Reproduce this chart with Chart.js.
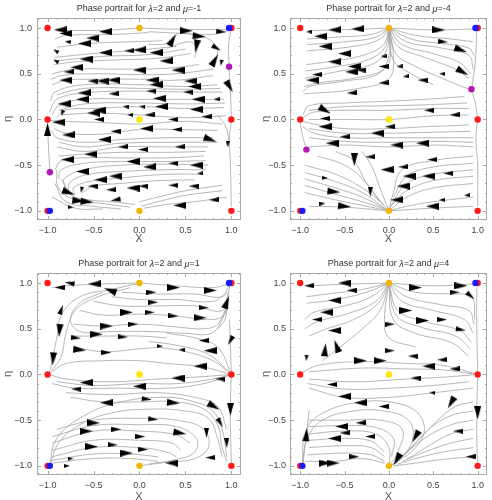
<!DOCTYPE html>
<html>
<head>
<meta charset="utf-8">
<script src="https://cdn.jsdelivr.net/npm/chart.js@4.4.0/dist/chart.umd.min.js"></script>
<style>
  body { margin: 0; background: #fff; overflow: hidden; }
  canvas { position: absolute; }
</style>
</head>
<body>
<canvas id="c1" width="246" height="250" style="left:0;top:0"></canvas>
<canvas id="c2" width="246" height="250" style="left:246px;top:0"></canvas>
<canvas id="c3" width="246" height="258" style="left:0;top:250px"></canvas>
<canvas id="c4" width="246" height="258" style="left:246px;top:250px"></canvas>
<script>
// fixed points shared by all four portraits
const redPts = [[-1, 1], [-1, 0], [1, 0], [1, -1], [-1, -1], [1, 1]];
const orangePts = [[0, 1], [0, -1]];
const yellowPts = [[0, 0]];
const bluePts = [[0.975, 1], [-0.975, -1]];
const magentaA = [[0.975, 0.577], [-0.975, -0.577]];
const magentaB = [[0.93, 0.33], [-0.93, -0.33]];

const titles = [
  'Phase portrait for \u03bb=2 and \u03bc=-1',
  'Phase portrait for \u03bb=2 and \u03bc=-4',
  'Phase portrait for \u03bb=2 and \u03bc=1',
  'Phase portrait for \u03bb=2 and \u03bc=4'
];
const tickVals = [-1, -0.5, 0, 0.5, 1];

// streamlines: [x, y] points
const lines1 = [
  [[0, 1], [-0.4, 0.975], [-0.9, 0.975]],
  [[0.1, 0.95], [-0.3, 0.93], [-0.8, 0.92], [-0.92, 0.88]],
  [[0.25, 0.86], [-0.1, 0.85], [-0.55, 0.83], [-0.9, 0.79]],
  [[0.4, 0.8], [0, 0.76], [-0.4, 0.73], [-0.92, 0.68]],
  [[0.5, 0.77], [0.1, 0.71], [-0.4, 0.69], [-0.92, 0.64]],
  [[0.55, 0.72], [0.2, 0.67], [-0.3, 0.65], [-0.7, 0.63], [-0.93, 0.6]],
  [[0.65, 0.6], [0.3, 0.56], [-0.2, 0.55], [-0.7, 0.55], [-0.95, 0.5]],
  [[0.8, 0.55], [0.4, 0.5], [0, 0.49], [-0.5, 0.5], [-0.85, 0.48], [-0.96, 0.44]],
  [[0.8, 0.48], [0.4, 0.43], [0, 0.44], [-0.5, 0.44], [-0.8, 0.43], [-0.95, 0.38]],
  [[0.85, 0.38], [0.5, 0.36], [0, 0.38], [-0.6, 0.38], [-0.92, 0.3], [-0.97, 0.2]],
  [[0.88, 0.34], [0.5, 0.33], [0, 0.34], [-0.6, 0.34], [-0.9, 0.27]],
  [[0.9, 0.3], [0.5, 0.3], [0, 0.31], [-0.6, 0.29], [-0.9, 0.22], [-0.98, 0.08]],
  [[0.92, 0.22], [0.5, 0.22], [0, 0.22], [-0.6, 0.22], [-0.88, 0.15], [-0.95, 0.05]],
  [[0.93, 0.18], [0.5, 0.17], [0, 0.18], [-0.6, 0.17], [-0.88, 0.1]],
  [[0.92, 0.13], [0.5, 0.12], [0, 0.14], [-0.5, 0.12], [-0.82, 0.1], [-0.9, 0.02]],
  [[0.94, 0.04], [0.5, 0.02], [0, 0.05], [-0.5, 0.07], [-0.85, 0.05]],
  [[0, 1], [0.5, 0.985], [0.96, 0.985]],
  [[0.1, 0.96], [0.5, 0.94], [0.8, 0.93], [0.96, 0.97]],
  [[0.1, 0.82], [0.3, 0.83], [0.38, 0.9], [0.42, 0.95]],
  [[0.3, 0.78], [0.55, 0.85], [0.62, 0.78], [0.6, 0.68]],
  [[0.45, 0.95], [0.75, 0.88], [0.85, 0.75], [0.8, 0.6]],
  [[0.99, 0.96], [0.97, 0.8], [0.975, 0.6]],
  [[0.975, 0.55], [0.99, 0.3], [1, 0.02]],
  [[0.9, -0.05], [0.5, -0.02], [0, -0.05], [-0.5, -0.03], [-0.88, -0.02], [-0.98, -0.01]],
  [[0.85, -0.12], [0.4, -0.11], [0, -0.11], [-0.4, -0.16], [-0.8, -0.15], [-0.93, -0.1]],
  [[0.8, -0.2], [0.3, -0.2], [-0.2, -0.22], [-0.6, -0.25], [-0.9, -0.2], [-0.96, -0.12]],
  [[0.85, -0.25], [0.3, -0.25], [-0.2, -0.26], [-0.6, -0.3], [-0.88, -0.25]],
  [[0.75, -0.3], [0.3, -0.3], [-0.2, -0.3], [-0.6, -0.35], [-0.9, -0.3]],
  [[0.72, -0.35], [0.3, -0.36], [-0.2, -0.36], [-0.6, -0.38], [-0.88, -0.4]],
  [[0.7, -0.4], [0.3, -0.42], [-0.2, -0.42], [-0.6, -0.42], [-0.85, -0.45], [-0.92, -0.55]],
  [[0.72, -0.45], [0.3, -0.46], [-0.2, -0.46], [-0.6, -0.48], [-0.85, -0.55], [-0.88, -0.65]],
  [[0.75, -0.5], [0.3, -0.49], [-0.2, -0.5], [-0.6, -0.55], [-0.82, -0.65], [-0.8, -0.75]],
  [[0.72, -0.55], [0.3, -0.55], [-0.2, -0.57], [-0.55, -0.6], [-0.75, -0.68], [-0.78, -0.78]],
  [[0.7, -0.6], [0.3, -0.6], [-0.2, -0.64], [-0.55, -0.68], [-0.72, -0.75], [-0.7, -0.82]],
  [[0.6, -0.66], [0.2, -0.67], [-0.2, -0.7], [-0.5, -0.73], [-0.62, -0.8]],
  [[-0.9, -0.55], [-0.88, -0.75], [-0.7, -0.88], [-0.4, -0.92], [-0.1, -0.96]],
  [[-0.85, -0.65], [-0.75, -0.82], [-0.55, -0.88], [-0.3, -0.9], [-0.05, -0.93]],
  [[-0.92, -0.7], [-0.8, -0.9], [-0.5, -0.95], [-0.2, -0.98]],
  [[-0.95, -0.85], [-0.7, -0.97], [-0.4, -0.98]],
  [[0.95, -0.85], [0.6, -0.9], [0.3, -0.93], [0.05, -0.97]],
  [[0.9, -0.78], [0.5, -0.83], [0.2, -0.9], [0.02, -0.95]],
  [[0.9, -0.72], [0.5, -0.78], [0.2, -0.85], [0, -0.9]],
  [[1, -0.02], [0.98, -0.2], [0.99, -0.5], [1, -0.95]],
  [[0.85, 0.05], [0.95, -0.1], [0.97, -0.3]],
  [[-0.975, -0.57], [-0.99, -0.3], [-1, -0.02]]
];
const lines2 = [
  [[0, 1], [-0.4, 0.985], [-0.9, 0.97]],
  [[0, 1], [-0.2, 0.93], [-0.6, 0.9], [-0.92, 0.88]],
  [[0, 1], [-0.15, 0.9], [-0.5, 0.85], [-0.92, 0.82]],
  [[0, 1], [-0.1, 0.88], [-0.4, 0.8], [-0.92, 0.75]],
  [[0, 1], [-0.06, 0.82], [-0.3, 0.7], [-0.7, 0.63], [-0.93, 0.6]],
  [[0, 1], [-0.05, 0.78], [-0.25, 0.65], [-0.65, 0.57], [-0.94, 0.53]],
  [[0, 1], [-0.03, 0.75], [-0.2, 0.6], [-0.6, 0.52], [-0.95, 0.45]],
  [[0, 1], [0.02, 0.72], [-0.05, 0.55], [-0.4, 0.45], [-0.8, 0.4], [-0.96, 0.36]],
  [[0, 1], [0, 0.7], [-0.12, 0.5], [-0.5, 0.42], [-0.9, 0.36], [-0.97, 0.3]],
  [[0, 1], [0.05, 0.7], [0, 0.45], [-0.4, 0.33], [-0.95, 0.28]],
  [[0, 1], [0.5, 0.98], [0.96, 0.99]],
  [[0, 1], [0.3, 0.92], [0.7, 0.88], [0.95, 0.85]],
  [[0, 1], [0.25, 0.88], [0.6, 0.83], [0.9, 0.78], [0.96, 0.7]],
  [[0, 1], [0.2, 0.85], [0.6, 0.78], [0.9, 0.7], [0.95, 0.55]],
  [[0, 1], [0.15, 0.82], [0.5, 0.72], [0.8, 0.62], [0.92, 0.5]],
  [[0, 1], [0.1, 0.8], [0.4, 0.68], [0.75, 0.55], [0.9, 0.45]],
  [[0, 1], [0.08, 0.72], [0.3, 0.58], [0.6, 0.45], [0.85, 0.35], [0.93, 0.33]],
  [[0, 1], [0.05, 0.65], [0.25, 0.5], [0.5, 0.38]],
  [[0.99, 0.97], [0.97, 0.6], [0.93, 0.33]],
  [[0.93, 0.33], [0.98, 0.15], [1, 0]],
  [[0.85, 0.25], [0.4, 0.22], [0, 0.2], [-0.5, 0.18], [-0.9, 0.15], [-0.97, 0.05]],
  [[0.88, 0.18], [0.4, 0.16], [0, 0.15], [-0.5, 0.14], [-0.9, 0.1]],
  [[0.9, 0.12], [0.5, 0.12], [0, 0.1], [-0.5, 0.1], [-0.85, 0.08], [-0.98, 0.01]],
  [[0.9, 0.05], [0.5, 0.04], [0, 0], [-0.5, 0], [-0.9, 0]],
  [[0.9, -0.06], [0.4, -0.08], [0, -0.1], [-0.5, -0.1], [-0.85, -0.05], [-0.97, -0.02]],
  [[0.92, -0.13], [0.5, -0.14], [0, -0.15], [-0.5, -0.15], [-0.9, -0.1]],
  [[0.95, -0.2], [0.5, -0.2], [0, -0.2], [-0.5, -0.2], [-0.85, -0.15], [-0.97, -0.08]],
  [[0.95, -0.25], [0.5, -0.24], [0, -0.25], [-0.5, -0.24], [-0.9, -0.2]],
  [[0.95, -0.3], [0.5, -0.28], [0, -0.3], [-0.5, -0.28], [-0.9, -0.3]],
  [[1, 0], [0.98, -0.2], [1, -0.5], [1, -0.95]],
  [[-0.93, -0.33], [-0.98, -0.15], [-1, -0.02]],
  [[-0.95, -0.5], [-0.6, -0.6], [-0.3, -0.75], [-0.1, -0.9], [0, -1]],
  [[-0.95, -0.58], [-0.6, -0.68], [-0.3, -0.8], [-0.05, -0.97]],
  [[-0.95, -0.65], [-0.6, -0.75], [-0.3, -0.85], [0, -1]],
  [[-0.95, -0.72], [-0.6, -0.82], [-0.3, -0.9], [-0.02, -0.99]],
  [[-0.95, -0.8], [-0.6, -0.88], [-0.3, -0.94], [0, -1]],
  [[-0.9, -0.95], [-0.5, -0.96], [0, -1]],
  [[-0.8, -0.4], [-0.5, -0.5], [-0.3, -0.65], [-0.1, -0.9]],
  [[-0.6, -0.35], [-0.4, -0.45], [-0.25, -0.7], [-0.05, -0.95]],
  [[-0.3, -0.35], [-0.2, -0.5], [-0.1, -0.75], [0, -1]],
  [[0.95, -0.4], [0.5, -0.45], [0.15, -0.55], [0.05, -0.8], [0, -1]],
  [[0.95, -0.48], [0.5, -0.52], [0.2, -0.62], [0.05, -0.85]],
  [[0.95, -0.55], [0.5, -0.6], [0.2, -0.7], [0.05, -0.9], [0, -1]],
  [[0.95, -0.62], [0.5, -0.67], [0.2, -0.78], [0.02, -0.95]],
  [[0.95, -0.7], [0.5, -0.75], [0.2, -0.85], [0, -1]],
  [[0.95, -0.85], [0.5, -0.9], [0.2, -0.95], [0, -1]],
  [[0.95, -0.95], [0.5, -0.97], [0, -1]]
];
const lines3 = [
  [[0, 1], [-0.4, 0.99], [-0.8, 0.97], [-0.95, 0.95]],
  [[0, 1], [-0.3, 0.93], [-0.65, 0.85], [-0.85, 0.65], [-0.9, 0.4], [-0.95, 0.15], [-0.98, 0.02]],
  [[-0.1, 0.95], [-0.45, 0.85], [-0.7, 0.7], [-0.8, 0.45], [-0.85, 0.2], [-0.95, 0.05]],
  [[-0.4, 0.9], [-0.65, 0.78], [-0.75, 0.6], [-0.65, 0.47], [-0.3, 0.47], [0.1, 0.47], [0.5, 0.45], [0.78, 0.45], [0.9, 0.6], [0.96, 0.8]],
  [[0, 1], [0.4, 0.97], [0.8, 0.95], [0.97, 0.99]],
  [[-0.2, 0.9], [0.2, 0.88], [0.6, 0.88], [0.9, 0.85], [0.97, 0.97]],
  [[-0.3, 0.85], [0, 0.82], [0.4, 0.82], [0.8, 0.8], [0.95, 0.9]],
  [[-0.5, 0.8], [-0.2, 0.75], [0.2, 0.75], [0.6, 0.75], [0.9, 0.7], [0.97, 0.9]],
  [[-0.65, 0.7], [-0.4, 0.65], [0, 0.66], [0.4, 0.64], [0.75, 0.6], [0.92, 0.65], [0.97, 0.85]],
  [[-0.72, 0.55], [-0.4, 0.53], [0, 0.55], [0.4, 0.52], [0.7, 0.5], [0.85, 0.55], [0.95, 0.75]],
  [[-0.75, 0.42], [-0.4, 0.42], [0, 0.42], [0.3, 0.4]],
  [[-0.72, 0.3], [-0.4, 0.25], [0, 0.28], [0.25, 0.3]],
  [[1, 0], [0.8, 0.15], [0.5, 0.25], [0.2, 0.3]],
  [[1, 0], [0.75, 0.22], [0.4, 0.32], [0.1, 0.36]],
  [[1, 0], [0.85, 0.3], [0.6, 0.4], [0.3, 0.45]],
  [[1, 0], [0.7, 0.08], [0.3, 0.12], [0, 0.15], [-0.4, 0.15], [-0.8, 0.12], [-0.97, 0.02]],
  [[1, 0], [0.6, -0.03], [0.2, -0.05], [-0.3, -0.08], [-0.8, -0.05], [-0.98, 0]],
  [[1, 0], [0.8, -0.05], [0.4, -0.1], [0, -0.1], [-0.5, -0.12], [-0.9, -0.08]],
  [[1, 0], [0.7, -0.1], [0.3, -0.15], [-0.3, -0.15], [-0.7, -0.15], [-0.95, -0.1]],
  [[1, 0.02], [0.99, 0.3], [0.98, 0.6]],
  [[0.85, 0.5], [0.93, 0.6], [0.96, 0.8], [0.98, 0.97]],
  [[1, 0], [0.99, -0.3], [0.99, -0.6], [1, -0.98]],
  [[-0.98, -1], [-0.9, -0.7], [-0.6, -0.45], [-0.2, -0.3], [0.3, -0.25], [0.6, -0.3], [0.8, -0.4], [0.9, -0.6], [0.95, -0.9]],
  [[-0.97, -0.98], [-0.88, -0.75], [-0.65, -0.55], [-0.3, -0.42], [0.1, -0.38], [0.5, -0.4], [0.75, -0.48], [0.85, -0.7], [0.9, -0.9]],
  [[-0.9, -0.6], [-0.5, -0.5], [0, -0.48], [0.4, -0.5], [0.7, -0.6], [0.75, -0.8], [0.6, -0.92], [0.3, -0.96], [0, -1]],
  [[-0.95, -0.68], [-0.5, -0.56], [0, -0.55], [0.4, -0.57], [0.62, -0.7], [0.6, -0.85], [0.4, -0.93], [0.1, -0.98]],
  [[-0.95, -0.75], [-0.5, -0.62], [0, -0.62], [0.4, -0.66], [0.55, -0.75]],
  [[-0.95, -0.83], [-0.5, -0.72], [0, -0.72], [0.35, -0.75], [0.45, -0.83]],
  [[-0.95, -0.9], [-0.5, -0.8], [0, -0.8], [0.3, -0.85], [0.4, -0.9]],
  [[-0.95, -0.94], [-0.5, -0.87], [-0.1, -0.87], [0.2, -0.9]],
  [[-0.95, -0.97], [-0.5, -0.92], [-0.1, -0.92], [0.2, -0.95]],
  [[-0.75, -0.25], [-0.4, -0.3], [0, -0.3], [0.4, -0.3], [0.7, -0.38], [0.85, -0.55], [0.9, -0.8], [0.95, -0.95]],
  [[-0.8, -0.2], [-0.3, -0.22], [0.2, -0.2], [0.6, -0.25], [0.85, -0.35], [0.95, -0.6]]
];
const lines4 = [
  [[0, 1], [-0.4, 0.99], [-0.9, 0.97]],
  [[0, 1], [-0.3, 0.93], [-0.7, 0.88], [-0.93, 0.85]],
  [[0, 1], [-0.25, 0.9], [-0.6, 0.82], [-0.92, 0.78]],
  [[0, 1], [-0.2, 0.85], [-0.5, 0.75], [-0.85, 0.68], [-0.95, 0.6]],
  [[0, 1], [-0.15, 0.8], [-0.45, 0.67], [-0.8, 0.58], [-0.95, 0.5]],
  [[0, 1], [-0.12, 0.78], [-0.4, 0.6], [-0.7, 0.5], [-0.9, 0.42]],
  [[0, 1], [-0.1, 0.7], [-0.3, 0.5], [-0.55, 0.3], [-0.75, 0.15]],
  [[0, 1], [0.5, 0.97], [0.96, 0.99]],
  [[0, 1], [0.3, 0.9], [0.7, 0.88], [0.93, 0.85], [0.97, 0.6]],
  [[0, 1], [0.2, 0.85], [0.6, 0.76], [0.9, 0.7], [0.96, 0.55]],
  [[0, 1], [0.15, 0.8], [0.5, 0.7], [0.85, 0.6], [0.95, 0.45]],
  [[0, 1], [0.1, 0.7], [0.4, 0.58], [0.8, 0.48], [0.93, 0.35]],
  [[0, 1], [0.08, 0.65], [0.35, 0.52], [0.75, 0.42], [0.92, 0.28]],
  [[0, 1], [0.05, 0.6], [0.3, 0.45], [0.7, 0.35], [0.9, 0.2]],
  [[0, 1], [-0.05, 0.6], [0, 0.4], [0.3, 0.3]],
  [[0.99, 0.95], [0.99, 0.5], [1, 0.02]],
  [[1, 0], [0.6, 0.1], [0.2, 0.12], [-0.3, 0.14], [-0.8, 0.1], [-0.98, 0.02]],
  [[1, 0], [0.6, 0.05], [0.2, 0.06], [-0.3, 0.07], [-0.9, 0.03]],
  [[1, 0], [0.6, -0.03], [0.2, -0.05], [-0.4, -0.08], [-0.9, -0.05]],
  [[0.9, -0.08], [0.5, -0.12], [0, -0.15], [-0.5, -0.16], [-0.92, -0.1]],
  [[0.95, -0.15], [0.5, -0.2], [0, -0.25], [-0.5, -0.25], [-0.9, -0.15]],
  [[-0.98, -1], [-0.93, -0.6], [-0.7, -0.4], [-0.3, -0.3], [0, -0.3], [0.3, -0.4], [0.4, -0.6], [0.3, -0.8], [0.1, -0.95], [0, -1]],
  [[-0.97, -1], [-0.92, -0.7], [-0.75, -0.5], [-0.4, -0.4], [-0.05, -0.4], [0.22, -0.5], [0.27, -0.7], [0.15, -0.9], [0.02, -1]],
  [[-0.9, -0.5], [-0.5, -0.5], [-0.1, -0.5], [0.15, -0.6], [0.1, -0.85], [0, -1]],
  [[-0.9, -0.57], [-0.5, -0.56], [-0.15, -0.58], [0.05, -0.7], [0.03, -0.9]],
  [[-0.9, -0.65], [-0.5, -0.62], [-0.15, -0.65], [0, -0.8], [0, -1]],
  [[-0.9, -0.72], [-0.5, -0.7], [-0.2, -0.73], [-0.05, -0.85]],
  [[-0.9, -0.8], [-0.5, -0.78], [-0.2, -0.8], [-0.05, -0.9]],
  [[-0.92, -0.88], [-0.5, -0.86], [-0.2, -0.88], [-0.05, -0.95]],
  [[-0.95, -0.95], [-0.6, -0.95], [-0.3, -0.92], [-0.05, -0.97]],
  [[0.95, -0.3], [0.75, -0.35], [0.55, -0.5], [0.35, -0.7], [0.1, -0.95]],
  [[0.95, -0.4], [0.7, -0.45], [0.45, -0.6], [0.25, -0.8], [0.08, -0.97]],
  [[0.95, -0.5], [0.7, -0.55], [0.4, -0.7], [0.15, -0.9]],
  [[0.95, -0.6], [0.7, -0.65], [0.45, -0.78], [0.2, -0.93]],
  [[0.95, -0.7], [0.7, -0.75], [0.4, -0.85], [0.15, -0.95]],
  [[0.95, -0.8], [0.6, -0.85], [0.3, -0.92], [0.1, -0.98]],
  [[0.95, -0.9], [0.6, -0.93], [0.3, -0.97], [0.05, -1]],
  [[1, 0], [0.99, -0.4], [0.99, -0.7], [1, -0.97]],
  [[-0.98, -1], [-0.93, -0.66], [-0.9, -0.4]]
];

// arrowheads: [x, y, direction in degrees (0 = right, 90 = down), size 1..3]
const arrows1 = [
  [-0.86, 0.98, 180, 3], [-0.80, 0.94, 180, 3], [-0.37, 0.96, 180, 3], [-0.78, 0.85, 185, 1],
  [-0.60, 0.83, 180, 3], [-0.51, 0.89, 180, 3], [-0.91, 0.75, 215, 1], [-0.58, 0.66, 180, 3],
  [-0.37, 0.73, 180, 3], [-0.11, 0.75, 180, 2], [-0.91, 0.64, 210, 1], [-0.68, 0.57, 180, 3],
  [-0.77, 0.52, 180, 2], [-0.80, 0.43, 180, 3], [-0.40, 0.42, 180, 3], [-0.28, 0.43, 180, 3],
  [-0.51, 0.42, 180, 2], [-0.60, 0.29, 180, 3], [-0.62, 0.22, 180, 3], [-0.28, 0.28, 180, 2],
  [-0.82, 0.17, 180, 3], [-0.15, 0.14, 180, 1], [-0.44, 0.10, 180, 3], [-0.84, 0.07, 110, 1],
  [0.51, 0.97, 0, 3], [0.65, 0.91, 5, 3], [0.89, 0.96, 5, 2], [0.36, 0.87, -60, 3],
  [0.62, 0.80, 100, 3], [0.84, 0.78, 30, 2], [0.82, 0.65, -60, 3], [0.89, 0.62, 100, 1],
  [0, 0.76, 180, 3], [0.18, 0.73, 180, 3], [0.29, 0.64, 180, 3], [0, 0.54, 180, 3],
  [0.42, 0.54, 180, 3], [0.98, 0.36, 60, 3], [0.14, 0.43, 180, 3], [0.56, 0.42, 180, 3],
  [0.18, 0.38, 180, 3], [0.60, 0.36, 180, 3], [0.13, 0.31, 180, 2], [0.53, 0.30, 180, 2],
  [0.22, 0.23, 180, 3], [0.64, 0.22, 180, 3], [0.84, 0.22, 180, 1], [0.03, 0.14, 180, 1],
  [0.24, 0.14, 180, 3], [0.11, 0.05, 180, 2], [0.62, 0.11, 180, 3],
  [-1, -0.11, -90, 3], [-0.88, -0.03, 180, 3], [-0.44, 0, 180, 2], [-0.77, -0.17, 180, 3],
  [-0.38, -0.22, 180, 3], [-0.26, -0.13, 180, 2], [-0.53, -0.38, 180, 3], [-0.78, -0.44, 180, 3],
  [-0.62, -0.57, 180, 3], [-0.42, -0.66, 180, 3], [-0.26, -0.62, 180, 3], [-0.51, -0.73, 180, 2],
  [-0.31, -0.77, 180, 2], [-0.63, -0.77, 100, 1], [-0.77, -0.80, 20, 3], [-0.66, -0.89, 5, 3],
  [-0.57, -0.90, 5, 3], [-0.75, -0.96, 0, 1], [-0.26, -0.88, 170, 2],
  [0.08, -0.10, 180, 3], [0.41, -0.11, 180, 2], [0.77, -0.22, 20, 3], [0.96, -0.27, 90, 1],
  [0.04, -0.33, 180, 2], [0.44, -0.30, 180, 2], [-0.18, -0.30, 180, 2], [-0.07, -0.46, 180, 3],
  [0.11, -0.52, 180, 3], [0.37, -0.48, 180, 2], [0.62, -0.50, 180, 3], [-0.07, -0.75, 180, 3],
  [0.04, -0.73, 180, 2], [0.37, -0.72, 180, 2], [0.59, -0.73, 180, 2], [0.44, -0.94, 180, 3],
  [0.81, -0.88, 180, 2], [0.66, -0.59, 180, 1], [-0.50, 0.07, 180, 3], [0.37, 0, 180, 2],
  [0.73, 0.03, 180, 2], [-0.10, 0.05, 180, 1]
];
const arrows2 = [
  [-0.90, 0.96, 180, 1], [-0.77, 0.91, 180, 3], [-0.61, 0.98, 180, 3], [-0.35, 0.99, 180, 3],
  [-0.72, 0.80, 180, 3], [-0.50, 0.72, 180, 3], [-0.39, 0.58, 180, 3], [-0.42, 0.52, 180, 3],
  [-0.61, 0.63, 180, 3], [-0.86, 0.43, 180, 3], [-0.81, 0.49, 180, 2], [-0.32, 0.54, 180, 2],
  [-0.06, 0.69, 180, 1], [-0.06, 0.58, 180, 2], [-0.06, 0.40, 180, 2], [0.12, 0.58, 180, 1],
  [0.19, 0.47, 180, 1], [0.38, 0.43, 180, 2], [0.60, 0.50, 180, 1],
  [0.56, 0.98, 0, 3], [0.61, 0.85, 5, 2], [0.81, 0.76, 20, 3], [0.83, 0.52, 30, 3],
  [-0.72, 0.10, 30, 3], [-0.72, 0.01, 180, 2], [-0.72, -0.08, 180, 3], [-0.64, -0.26, 180, 3],
  [-0.50, -0.19, 180, 2], [-0.13, -0.15, 180, 3], [0.01, -0.08, 180, 2], [0.09, -0.28, 180, 3],
  [0.38, -0.26, 180, 3], [0.45, 0.10, 180, 2], [0.74, 0.05, 180, 2], [-0.42, 0.29, 180, 2],
  [-0.39, -0.44, 90, 3], [-0.21, -0.41, 180, 2], [-0.02, -0.55, 180, 3], [0.16, -0.52, 180, 2],
  [0.23, -0.62, 180, 3], [0.45, -0.62, 180, 3], [0.67, -0.59, 180, 2], [0.49, -0.44, 180, 2],
  [0.16, -0.73, 180, 3], [0.09, -0.88, 180, 3], [0.60, -0.88, 180, 1], [0.49, -0.95, 180, 3],
  [0.88, -0.83, 180, 1], [-0.21, -0.79, 90, 2], [-0.62, -0.79, 5, 3], [-0.50, -0.95, 5, 3],
  [-0.75, -0.92, 0, 1], [-0.72, -0.64, 5, 1]
];
const arrows3 = [
  [-0.87, 0.95, 180, 2], [-0.76, 1.0, 190, 2], [-0.49, 0.99, 180, 3], [-0.32, 0.92, 200, 3],
  [-0.85, 0.71, -70, 2], [-0.87, 0.48, 95, 3], [-0.94, 0.17, 95, 3], [0.37, 0.95, 0, 3],
  [0.77, 0.92, 0, 3], [0.13, 0.90, 0, 2], [0.95, 0.79, -70, 3], [-0.14, 0.68, 0, 3],
  [0.15, 0.79, 0, 2], [0.11, 0.68, 0, 2], [0.37, 0.64, 0, 2], [0.66, 0.62, 0, 3],
  [0.70, 0.73, 0, 2], [-0.36, 0.53, 0, 3], [-0.07, 0.55, 0, 2], [-0.47, 0.44, 0, 3],
  [-0.18, 0.41, 0, 2], [-0.69, 0.40, 5, 2], [-0.65, 0.27, 5, 3], [-0.36, 0.24, 0, 2],
  [0.22, 0.31, 0, 1],
  [0.70, 0.37, 180, 2], [0.77, 0.26, 180, 3], [0.99, 0.37, 120, 2], [0.46, 0.27, 180, 1],
  [0.66, 0.09, 180, 3], [0.42, -0.04, 180, 3], [0.88, -0.05, 180, 2], [0, -0.13, 180, 3],
  [-0.58, -0.09, 180, 3], [-0.69, -0.16, 180, 2], [-0.36, -0.31, 180, 3], [0.08, -0.27, 5, 2],
  [0.37, -0.31, 5, 3], [0.81, -0.35, 30, 3], [0.99, -0.38, 90, 3], [0.88, -0.53, 60, 2],
  [0.73, -0.64, 90, 2], [0.95, -0.75, 90, 2], [0.77, -0.91, 180, 2], [0.35, -0.97, 180, 3],
  [0.44, -0.64, 10, 3], [0.15, -0.49, 5, 2], [-0.50, -0.53, 0, 3], [-0.58, -0.62, 0, 3],
  [-0.25, -0.60, 0, 2], [0.01, -0.68, 0, 2], [-0.52, -0.79, 0, 3], [-0.14, -0.86, 0, 3],
  [0.04, -0.82, 0, 2], [-0.29, -0.77, 0, 2], [-0.75, -0.92, 0, 1], [-0.79, -1.0, 0, 1]
];
const arrows4 = [
  [-0.90, 0.97, 180, 2], [-0.50, 1.0, 180, 3], [-0.42, 0.92, 180, 2], [-0.61, 0.81, 180, 3],
  [-0.70, 0.68, 180, 3], [-0.81, 0.60, 180, 2], [-0.61, 0.48, 180, 3], [-0.93, 0.18, 95, 1],
  [-0.72, 0.27, -85, 3], [-0.59, 0.31, -110, 3], [0.30, 0.95, 0, 3], [0.81, 0.97, 0, 3],
  [0.74, 0.90, 0, 2], [0.92, 0.86, 40, 2], [0.19, 0.70, 0, 3], [0.38, 0.59, 0, 3],
  [0.60, 0.60, 0, 2], [0.81, 0.49, 10, 2], [0.01, 0.55, 0, 2], [-0.32, 0.15, 0, 3],
  [-0.10, 0.15, 0, 3], [0.01, 0.26, 0, 2], [0.27, 0.20, 180, 2], [0.45, 0.09, 180, 3],
  [0.60, 0.16, 180, 2], [0.74, 0.06, 180, 2], [0.30, -0.04, 180, 2], [-0.64, -0.11, 180, 2],
  [-0.50, -0.24, 180, 3], [-0.32, -0.31, 180, 3], [-0.06, -0.35, 180, 2], [0.49, -0.20, 180, 1],
  [0.70, -0.31, 120, 3], [1.0, -0.42, 90, 3], [0.30, -0.68, 120, 3], [0.78, -0.62, 180, 2],
  [0.92, -0.90, 180, 2], [0.09, -0.93, 120, 3], [-0.53, -0.57, 180, 3], [-0.32, -0.53, 180, 2],
  [-0.61, -0.70, 180, 3], [-0.50, -0.64, 180, 2], [-0.21, -0.68, 180, 2], [-0.72, -0.97, 0, 3],
  [-0.63, -0.97, 0, 3], [-0.39, -0.90, 0, 2], [-0.93, -0.66, -85, 3]
];

function arrowImg(len, wid) {
  const c = document.createElement('canvas');
  c.width = len; c.height = wid;
  const g = c.getContext('2d');
  g.fillStyle = '#000';
  g.beginPath();
  g.moveTo(0, 0); g.lineTo(len, wid / 2); g.lineTo(0, wid); g.closePath();
  g.fill();
  return c;
}
const heads = [null, arrowImg(6, 4), arrowImg(10, 5), arrowImg(13, 7)];

// frame with inward ticks on all four sides, plus the title centred over the plot
const framePlugin = {
  id: 'frame',
  beforeDatasetsDraw(chart) {
    const { ctx, chartArea: a, scales: { x, y } } = chart;
    ctx.save();
    ctx.strokeStyle = '#a8a8a8';
    ctx.lineWidth = 1;
    ctx.strokeRect(a.left + 0.5, a.top + 0.5, a.right - a.left - 1, a.bottom - a.top - 1);
    ctx.beginPath();
    for (let i = -11; i <= 11; i++) {
      const v = i / 10;
      const len = i % 5 === 0 ? 4 : 2;
      const px = Math.round(x.getPixelForValue(v)) + 0.5;
      const py = Math.round(y.getPixelForValue(v)) + 0.5;
      if (px > a.left && px < a.right) {
        ctx.moveTo(px, a.bottom); ctx.lineTo(px, a.bottom - len);
        ctx.moveTo(px, a.top); ctx.lineTo(px, a.top + len);
      }
      if (py > a.top && py < a.bottom) {
        ctx.moveTo(a.left, py); ctx.lineTo(a.left + len, py);
        ctx.moveTo(a.right, py); ctx.lineTo(a.right - len, py);
      }
    }
    ctx.stroke();

    // title: greek letters in italic
    const text = chart.options.plugins.frame.title;
    const norm = '9px "Liberation Sans"', ital = 'italic 9px "Liberation Sans"';
    const parts = [];
    for (const ch of text) {
      const f = /[\u0370-\u03ff]/.test(ch) ? ital : norm;
      if (parts.length && parts[parts.length - 1].f === f) parts[parts.length - 1].t += ch;
      else parts.push({ t: ch, f });
    }
    let w = 0;
    parts.forEach(p => { ctx.font = p.f; p.w = ctx.measureText(p.t).width; w += p.w; });
    let cx = (a.left + a.right) / 2 - w / 2;
    ctx.fillStyle = '#333';
    ctx.textBaseline = 'middle';
    ctx.textAlign = 'left';
    parts.forEach(p => { ctx.font = p.f; ctx.fillText(p.t, cx, a.top - 9); cx += p.w; });
    ctx.restore();
  }
};

const fmt = v => (v < 0 ? '\u2212' : '') + Math.abs(v).toFixed(1);
const pts = arr => arr.map(p => ({ x: p[0], y: p[1] }));

function makePanel(id, title, lines, arrows, magenta, L) {
  const datasets = [];
  lines.forEach(l => datasets.push({
    data: pts(l), showLine: true, tension: 0.4, pointRadius: 0,
    borderColor: '#a4a4a4', borderWidth: 0.8, order: 5
  }));
  datasets.push({
    data: arrows.map(a => ({ x: a[0], y: a[1] })),
    pointStyle: arrows.map(a => heads[a[3]]),
    pointRotation: arrows.map(a => a[2]),
    pointRadius: 3, order: 4
  });
  const dot = (arr, col, order) => ({
    data: pts(arr), pointRadius: 3.2, pointBackgroundColor: col,
    pointBorderWidth: 0, order: order, clip: false
  });
  datasets.push(dot(redPts, '#ff1a1a', 3));
  datasets.push(dot(orangePts, '#f2b400', 2));
  datasets.push(dot(yellowPts, '#ffe600', 2));
  if (magenta) datasets.push(dot(magenta, '#b318b3', 2));
  datasets.push(dot(bluePts, '#1a1aff', 1));

  new Chart(document.getElementById(id), {
    type: 'scatter',
    data: { datasets },
    options: {
      responsive: false,
      animation: false,
      events: [],
      devicePixelRatio: 1,
      layout: { padding: { left: 0, right: L.padRight, top: L.top, bottom: 0 } },
      plugins: {
        legend: { display: false },
        tooltip: { enabled: false },
        title: { display: false },
        frame: { title: title }
      },
      scales: {
        x: {
          type: 'linear', min: -1.115, max: 1.105,
          afterBuildTicks: s => { s.ticks = tickVals.map(v => ({ value: v })); },
          afterFit: s => { s.height = L.xh; s.paddingLeft = 0; s.paddingRight = 0; },
          grid: { display: false, drawTicks: false },
          border: { display: false },
          ticks: { callback: fmt, color: '#444', padding: 5, maxRotation: 0, autoSkip: false,
                   font: { family: 'Liberation Sans', size: 9 } },
          title: { display: true, text: 'X', color: '#555', padding: { top: 0, bottom: 4 },
                   font: { family: 'Liberation Sans', size: 11 } }
        },
        y: {
          type: 'linear', min: -1.1, max: 1.11,
          afterBuildTicks: s => { s.ticks = tickVals.map(v => ({ value: v })); },
          afterFit: s => { s.width = L.yw; s.paddingTop = 0; s.paddingBottom = 0; },
          grid: { display: false, drawTicks: false },
          border: { display: false },
          ticks: { callback: fmt, color: '#444', padding: L.yTickPad, autoSkip: false,
                   font: { family: 'Liberation Sans', size: 9 } },
          title: { display: true, text: '\u03b7', color: '#555', padding: { top: L.yTitlePad, bottom: 0 },
                   font: { family: 'Liberation Sans', size: 11 } }
        }
      }
    },
    plugins: [framePlugin]
  });
}

makePanel('c1', titles[0], lines1, arrows1, magentaA,
  { padRight: 5, top: 18, xh: 30, yw: 37, yTickPad: 5, yTitlePad: 1 });
makePanel('c2', titles[1], lines2, arrows2, magentaB,
  { padRight: 0, top: 18, xh: 30, yw: 44, yTickPad: 4, yTitlePad: 13 });
makePanel('c3', titles[2], lines3, arrows3, null,
  { padRight: 5, top: 23, xh: 33, yw: 37, yTickPad: 5, yTitlePad: 1 });
makePanel('c4', titles[3], lines4, arrows4, null,
  { padRight: 0, top: 23, xh: 33, yw: 44, yTickPad: 4, yTitlePad: 13 });
</script>
</body>
</html>
